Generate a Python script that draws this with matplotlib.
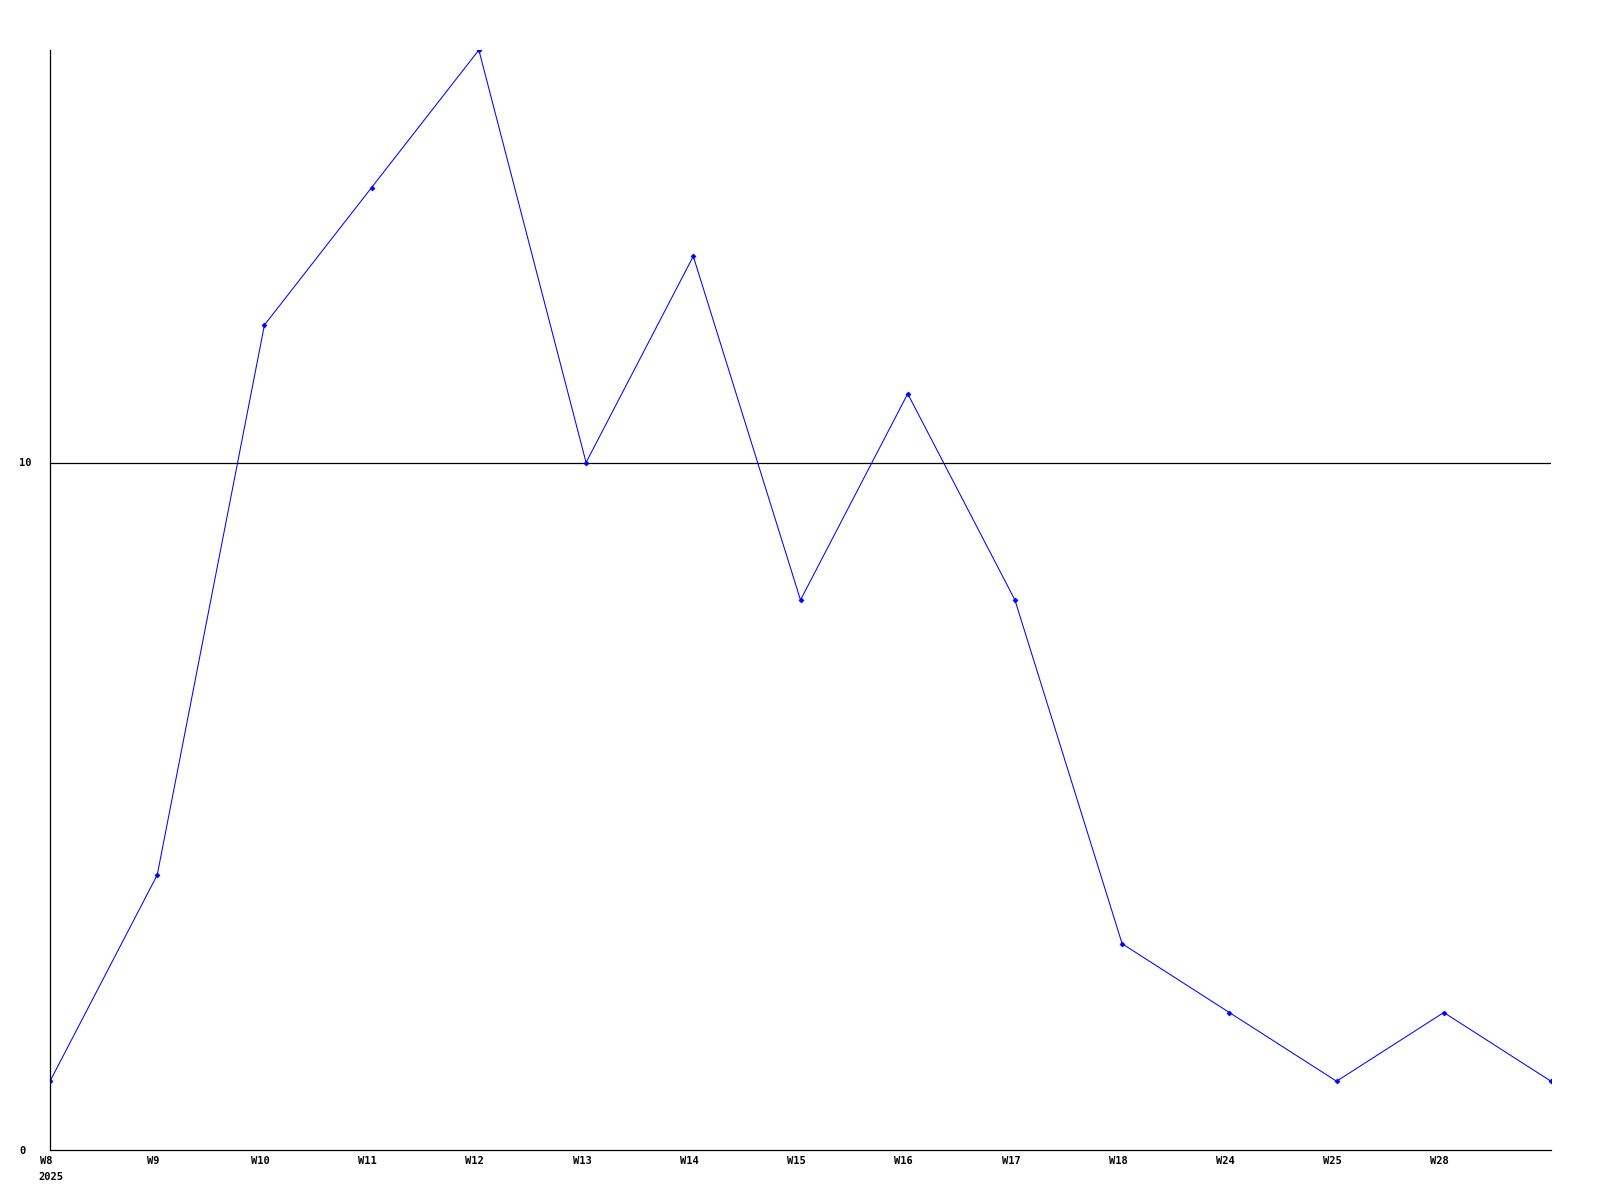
import matplotlib
matplotlib.use("Agg")
import matplotlib.pyplot as plt
import matplotlib.transforms as mtransforms

weeks = ["W8", "W9", "W10", "W11", "W12", "W13", "W14", "W15",
         "W16", "W17", "W18", "W24", "W25", "W28", ""]
values = [1, 4, 12, 14, 16, 10, 13, 8, 11, 8, 3, 2, 1, 2, 1]
y_ticks = [0, 10]

plt.rcParams.update({'font.family': 'DejaVu Sans Mono', 'font.weight': 'bold',
                     'font.size': 7.5})
fig = plt.figure(figsize=(16, 12), dpi=100)
ax = fig.add_axes([50 / 1600, 50 / 1200, 1501 / 1600, 1100 / 1200])

x = list(range(len(values)))
ax.plot(x, values, '-', color='blue', linewidth=0.75,
        marker='D', markersize=2.5, markeredgewidth=0.5)

ax.axhline(10, color='black', linewidth=0.9, zorder=0)

ax.set_xlim(0, len(values) - 1)
ax.set_ylim(0, max(values))
ax.set_xticks(x)
ax.set_xticklabels(weeks)
ax.set_yticks(y_ticks)
ax.tick_params(axis='both', length=0, pad=4)
ax.tick_params(axis='y', pad=22)
for lbl in ax.get_yticklabels():
    lbl.set_horizontalalignment('left')

# labels sit a few pixels left of their points in the original
shift = mtransforms.ScaledTranslation(-4 / 100, 0, fig.dpi_scale_trans)
for lbl in ax.get_xticklabels():
    lbl.set_transform(lbl.get_transform() + shift)

for side in ['top', 'right']:
    ax.spines[side].set_visible(False)
for side in ['left', 'bottom']:
    ax.spines[side].set_linewidth(0.9)

fig.text(38 / 1600, 1 - 1177 / 1200, "2025", ha='left', va='center',
         fontweight='bold')

fig.savefig("out.png", dpi=100, facecolor='white')
